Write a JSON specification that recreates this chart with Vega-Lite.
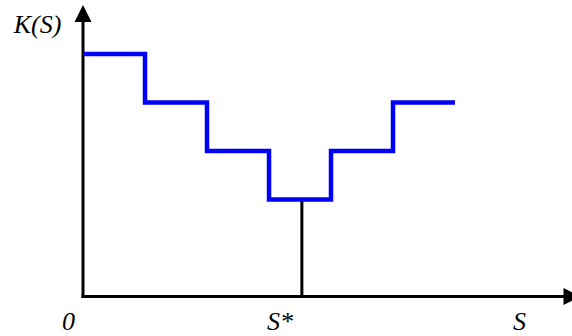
{
  "$schema": "https://vega.github.io/schema/vega-lite/v6.json",
  "width": 572,
  "height": 336,
  "padding": 0,
  "autosize": "none",
  "background": "white",
  "config": {"view": {"stroke": null}},
  "encoding": {
    "x": {"field": "x", "type": "quantitative", "axis": null, "scale": {"domain": [-1.339, 7.887], "nice": false, "zero": false}},
    "y": {"field": "y", "type": "quantitative", "axis": null, "scale": {"domain": [-0.814, 6.113], "nice": false, "zero": false}}
  },
  "layer": [
    {
      "data": {"values": [
        {"x": 0, "y": 0, "x2": 7.8, "y2": 0},
        {"x": 0, "y": 0, "x2": 0, "y2": 5.8}
      ]},
      "mark": {"type": "rule", "color": "black", "strokeWidth": 3, "strokeCap": "square"},
      "encoding": {"x2": {"field": "x2"}, "y2": {"field": "y2"}}
    },
    {
      "data": {"values": [
        {"x": 3.53, "y": 0, "y2": 2}
      ]},
      "mark": {"type": "rule", "color": "black", "strokeWidth": 3},
      "encoding": {"y2": {"field": "y2"}}
    },
    {
      "data": {"values": [
        {"x": 0, "y": 5},
        {"x": 1, "y": 4},
        {"x": 2, "y": 3},
        {"x": 3, "y": 2},
        {"x": 4, "y": 3},
        {"x": 5, "y": 4},
        {"x": 6, "y": 4}
      ]},
      "mark": {"type": "line", "interpolate": "step-after", "color": "#0000f5", "strokeWidth": 4.5, "strokeJoin": "miter", "strokeCap": "butt"}
    },
    {
      "data": {"values": [
        {"x": 7.887, "y": 0, "dir": "right"},
        {"x": 0, "y": 5.835, "dir": "up"}
      ]},
      "mark": {"type": "point", "filled": true, "color": "black", "opacity": 1, "size": 289},
      "encoding": {
        "shape": {"field": "dir", "type": "nominal", "legend": null, "scale": {"domain": ["up", "right"], "range": ["M-1,1L0,-1L1,1Z", "M-1,-1L1,0L-1,1Z"]}}
      }
    },
    {
      "data": {"values": [
        {"x": -0.734, "y": 5.433, "label": "K(S)"},
        {"x": -0.234, "y": -0.68, "label": "0"},
        {"x": 3.177, "y": -0.68, "label": "S*"},
        {"x": 7.04, "y": -0.68, "label": "S"}
      ]},
      "mark": {"type": "text", "font": "Times New Roman", "fontStyle": "italic", "fontSize": 26, "color": "black", "align": "center", "baseline": "alphabetic"},
      "encoding": {"text": {"field": "label"}}
    }
  ]
}
